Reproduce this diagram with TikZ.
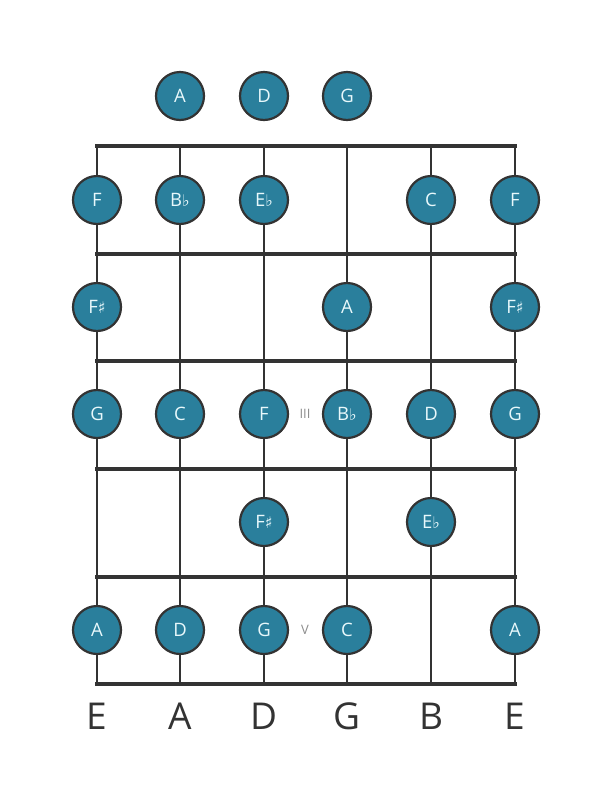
\documentclass[tikz,border=0pt]{standalone}
\usepackage{fontspec}
\setmainfont{Open Sans}
\newfontfamily\symfont{DejaVu Sans}
\definecolor{notefill}{HTML}{2A7F9C}
\definecolor{dark}{HTML}{333333}
\definecolor{notetext}{HTML}{E8F8FB}
\newcommand{\fl}{{\symfont\fontsize{16}{16}\selectfont ♭}}
\newcommand{\sh}{{\symfont\fontsize{16}{16}\selectfont ♯}}
\begin{document}
\begin{tikzpicture}[x=1pt,y=-1pt,
  note/.style={circle,draw=dark,line width=2.2pt,fill=notefill,minimum size=48pt,inner sep=0pt,
    text=notetext,font=\fontsize{18.5}{18.5}\selectfont},
  fretline/.style={draw=dark,line width=4.5pt},
  stringline/.style={draw=dark,line width=2.8pt},
  strname/.style={text=dark,font=\fontsize{37}{37}\selectfont},
  roman/.style={text=gray!90,font=\fontsize{13}{13}\selectfont}]
\useasboundingbox (0,0) rectangle (611,801);
% string and fret coordinates
\foreach \i/\x in {1/97,2/180,3/264,4/347,5/431,6/515}{
  \coordinate (st\i) at (\x,146);
  \coordinate (sb\i) at (\x,684);
}
\foreach \j/\y in {0/146,1/254,2/361,3/469,4/577,5/684}{
  \coordinate (fl\j) at (95,\y);
  \coordinate (fr\j) at (517,\y);
}
\foreach \i in {1,...,6}{\draw[stringline] (st\i) -- (sb\i);}
\foreach \j in {0,...,5}{\draw[fretline] (fl\j) -- (fr\j);}
% open strings
\node[note] (o2) at (180,96) {A};
\node[note] (o3) at (264,96) {D};
\node[note] (o4) at (347,96) {G};
% fret 1
\node[note] (a1) at (97,200) {F};
\node[note] (a2) at (180,200) {B\fl};
\node[note] (a3) at (264,200) {E\fl};
\node[note] (a5) at (431,200) {C};
\node[note] (a6) at (515,200) {F};
% fret 2
\node[note] (b1) at (97,307) {F\sh};
\node[note] (b4) at (347,307) {A};
\node[note] (b6) at (515,307) {F\sh};
% fret 3
\node[note] (c1) at (97,414) {G};
\node[note] (c2) at (180,414) {C};
\node[note] (c3) at (264,414) {F};
\node[note] (c4) at (347,414) {B\fl};
\node[note] (c5) at (431,414) {D};
\node[note] (c6) at (515,414) {G};
% fret 4
\node[note] (d3) at (264,522) {F\sh};
\node[note] (d5) at (431,522) {E\fl};
% fret 5
\node[note] (e1) at (97,630) {A};
\node[note] (e2) at (180,630) {D};
\node[note] (e3) at (264,630) {G};
\node[note] (e4) at (347,630) {C};
\node[note] (e6) at (515,630) {A};
% fret markers
\node[roman] (m3) at (305,414) {III};
\node[roman] (m5) at (305,630) {V};
% string names
\foreach \i/\x/\n in {1/97/E,2/180/A,3/264/D,4/347/G,5/431/B,6/515/E}{
  \node[strname] (n\i) at (\x,716) {\n};
}
\end{tikzpicture}
\end{document}
